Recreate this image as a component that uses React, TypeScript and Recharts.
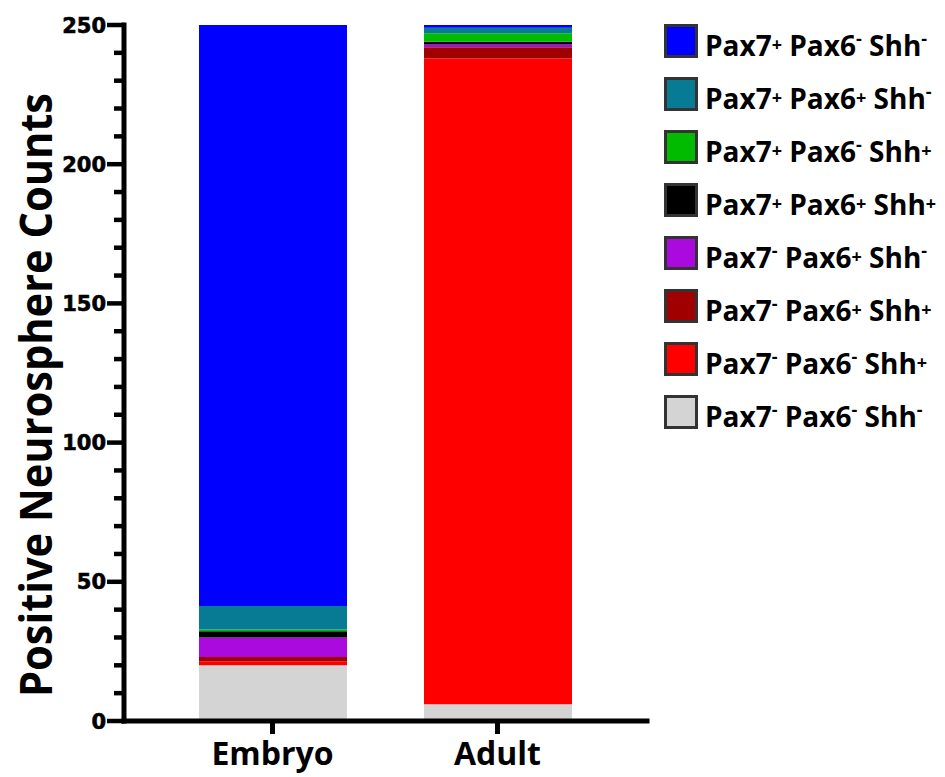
import { Bar, BarChart, Legend, XAxis, YAxis } from "recharts";

const categories = ["Embryo", "Adult"];

// counts per group, bottom of the stack first
const pax7nPax6nShhn = [20, 6];
const pax7nPax6nShhp = [1.5, 232];
const pax7nPax6pShhp = [1.5, 4];
const pax7nPax6pShhn = [7, 1];
const pax7pPax6pShhp = [2.2, 1];
const pax7pPax6nShhp = [0.7, 3];
const pax7pPax6pShhn = [8.4, 2];
const pax7pPax6nShhn = [208.7, 1];

const yTicks = [0, 10, 20, 30, 40, 50, 60, 70, 80, 90, 100, 110, 120, 130, 140, 150, 160, 170, 180, 190, 200, 210, 220, 230, 240, 250];

const series = [
  { key: "nnn", name: "Pax7- Pax6- Shh-", color: "#d4d4d4", values: pax7nPax6nShhn },
  { key: "nnp", name: "Pax7- Pax6- Shh+", color: "#ff0000", values: pax7nPax6nShhp },
  { key: "npp", name: "Pax7- Pax6+ Shh+", color: "#a00000", values: pax7nPax6pShhp },
  { key: "npn", name: "Pax7- Pax6+ Shh-", color: "#aa0add", values: pax7nPax6pShhn },
  { key: "ppp", name: "Pax7+ Pax6+ Shh+", color: "#000000", values: pax7pPax6pShhp },
  { key: "pnp", name: "Pax7+ Pax6- Shh+", color: "#00bb00", values: pax7pPax6nShhp },
  { key: "ppn", name: "Pax7+ Pax6+ Shh-", color: "#077b93", values: pax7pPax6pShhn },
  { key: "pnn", name: "Pax7+ Pax6- Shh-", color: "#0000ff", values: pax7pPax6nShhn },
];

const data = categories.map((group, i) => {
  const row: Record<string, string | number> = { group };
  series.forEach((s) => {
    row[s.key] = s.values[i];
  });
  return row;
});

function YTick({ x, y, payload }: any) {
  const major = payload.value % 50 === 0;
  return (
    <g>
      <line x1={x - (major ? 17 : 10)} x2={x} y1={y} y2={y} stroke="#000" strokeWidth={4.5} />
      {major && (
        <text
          x={x - 18}
          y={y + 7.5}
          textAnchor="end"
          fill="#000"
          stroke="#000"
          strokeWidth={0.6}
          fontFamily="DejaVu Sans"
          fontWeight={700}
          fontSize={21}
        >
          {payload.value}
        </text>
      )}
    </g>
  );
}

function YLabel({ viewBox }: any) {
  const cy = viewBox.y + viewBox.height / 2 + 22;
  return (
    <text
      x={52}
      y={cy}
      transform={`rotate(-90 52 ${cy})`}
      textAnchor="middle"
      textLength={604}
      lengthAdjust="spacingAndGlyphs"
      fill="#000"
      fontFamily="Open Sans"
      fontWeight={700}
      fontSize={44}
    >
      Positive Neurosphere Counts
    </text>
  );
}

function LegendName({ name }: { name: string }) {
  const parts = name.split(" ");
  return (
    <span>
      {parts.map((p, i) => {
        const sign = p.slice(-1);
        return (
          <span key={i}>
            {p.slice(0, -1)}
            <span
              style={{
                fontSize: 18,
                position: "relative",
                top: sign === "+" ? -5 : -11,
              }}
            >
              {sign}
            </span>
            {i < parts.length - 1 ? " " : ""}
          </span>
        );
      })}
    </span>
  );
}

function LegendBox({ payload }: any) {
  const entries = payload ?? [];
  // top-to-bottom order follows the stack from its top
  const items = [...series].reverse().map((s) => {
    const found = entries.find((e: any) => e.value === s.name);
    return { value: s.name, color: found ? found.color : s.color };
  });
  return (
    <div>
      {items.map((item) => (
        <div key={item.value} style={{ display: "flex", alignItems: "flex-start", height: 53 }}>
          <div
            style={{
              width: 34,
              height: 34,
              boxSizing: "border-box",
              border: "3px solid #333",
              background: item.color,
              marginRight: 7,
              flexShrink: 0,
            }}
          />
          <div
            style={{
              fontFamily: "Open Sans",
              fontWeight: 700,
              fontSize: 28,
              lineHeight: "34px",
              marginTop: 4,
              whiteSpace: "nowrap",
              color: "#000",
            }}
          >
            <LegendName name={item.value} />
          </div>
        </div>
      ))}
    </div>
  );
}

export default function App() {
  return (
    <div style={{ position: "absolute", left: 0, top: 0, background: "#fff" }}>
      <BarChart
        width={945}
        height={777}
        data={data}
        margin={{ top: 25, right: 298, bottom: 0, left: 0 }}
      >
        <XAxis
          dataKey="group"
          padding={{ left: 36, right: 37 }}
          axisLine={{ stroke: "#000", strokeWidth: 5, strokeLinecap: "square" }}
          tickLine={{ stroke: "#000", strokeWidth: 5 }}
          tickSize={13}
          tickMargin={8}
          height={56}
          tick={{ fill: "#000", fontSize: 32, fontWeight: 700, fontFamily: "Open Sans" }}
        />
        <YAxis
          domain={[0, 250]}
          ticks={yTicks}
          interval={0}
          width={124}
          tickLine={false}
          tickSize={0}
          tickMargin={0}
          tick={<YTick />}
          axisLine={{ stroke: "#000", strokeWidth: 5, strokeLinecap: "square" }}
          label={<YLabel />}
        />
        <Legend
          layout="vertical"
          align="center"
          verticalAlign="middle"
          wrapperStyle={{ left: 664, top: 24, width: 281 }}
          content={<LegendBox />}
        />
        {series.map((s) => (
          <Bar
            key={s.key}
            dataKey={s.key}
            name={s.name}
            stackId="stack"
            fill={s.color}
            barSize={148}
            isAnimationActive={false}
          />
        ))}
      </BarChart>
    </div>
  );
}
